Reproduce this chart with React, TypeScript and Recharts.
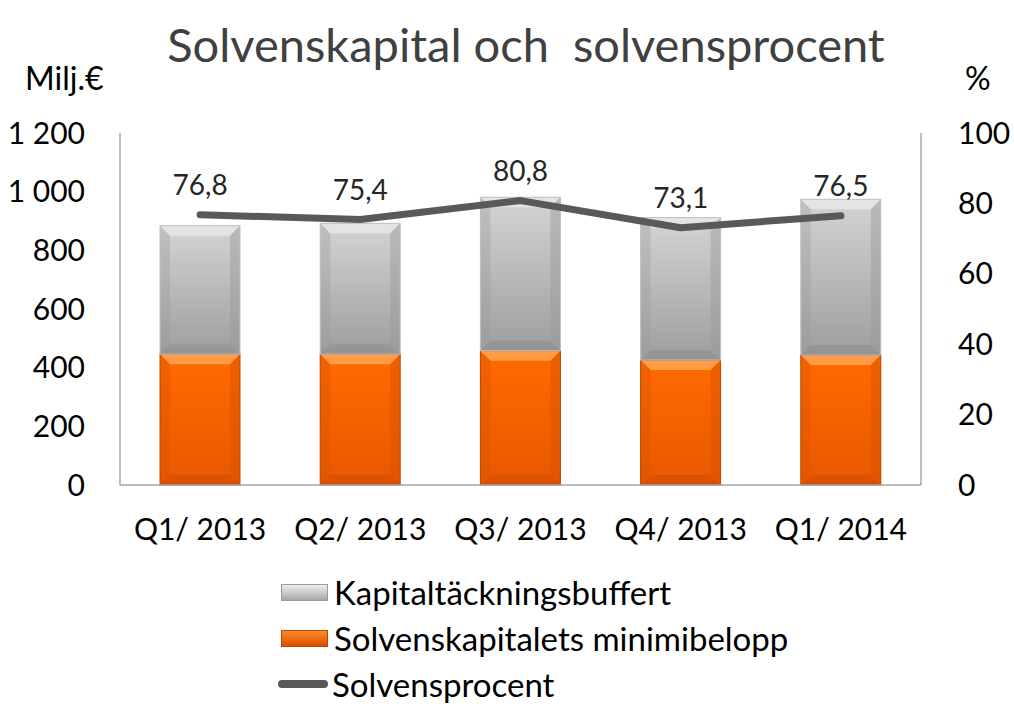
import React from "react";
import {
  ComposedChart, Bar, Line, XAxis, YAxis, LabelList
} from "recharts";

// values (Milj.€ and %)
const quarters = ["Q1/ 2013", "Q2/ 2013", "Q3/ 2013", "Q4/ 2013", "Q1/ 2014"];
const minimibelopp = [446, 446, 458, 426, 443];
const buffert = [438, 446, 523, 486, 531];
const solvensprocent = [76.8, 75.4, 80.8, 73.1, 76.5];

const leftTicks = [0, 200, 400, 600, 800, 1000, 1200];
const rightTicks = [0, 20, 40, 60, 80, 100];

const data = quarters.map((q, i) => ({
  q,
  min: minimibelopp[i],
  buf: buffert[i],
  pct: solvensprocent[i],
}));

const FONT = "Lato, 'Open Sans', sans-serif";

const fmtThousands = (v: number) => String(v).replace(/\B(?=(\d{3})+(?!\d))/g, " ");

// bevelled bar look
function BevelBar(props: any) {
  const { x, y, width, height, kind } = props;
  if (!height || height <= 0) return null;
  const b = 10;
  const top = kind === "gray" ? "#e6e6e6" : "#ffa24d";
  const body = kind === "gray" ? "url(#gradGray)" : "url(#gradOrange)";
  const bottom = kind === "gray" ? "#8a8a8a" : "#c94a00";
  const side = kind === "gray" ? "#9a9a9a" : "#d95200";
  return (
    <g>
      <rect x={x} y={y} width={width} height={height} fill={body} />
      <polygon points={`${x},${y} ${x + width},${y} ${x + width - b},${y + b} ${x + b},${y + b}`} fill={top} opacity={0.9} />
      <polygon points={`${x},${y + height} ${x + width},${y + height} ${x + width - b},${y + height - b} ${x + b},${y + height - b}`} fill={bottom} opacity={0.5} />
      <polygon points={`${x},${y} ${x + b},${y + b} ${x + b},${y + height - b} ${x},${y + height}`} fill={side} opacity={0.35} />
      <polygon points={`${x + width},${y} ${x + width - b},${y + b} ${x + width - b},${y + height - b} ${x + width},${y + height}`} fill={side} opacity={0.45} />
      <rect x={x} y={y} width={width} height={height} fill="none" stroke={kind === "gray" ? "#bfbfbf" : "#b84800"} strokeWidth={1} />
    </g>
  );
}

function LegendBox({ kind }: { kind: "gray" | "orange" }) {
  const bg = kind === "gray"
    ? "linear-gradient(#f0f0f0, #a6a6a6)"
    : "linear-gradient(#ff8a2a, #d95000)";
  return <div style={{ width: 45, height: 15, flex: "none", background: bg, border: "1px solid " + (kind === "gray" ? "#9a9a9a" : "#b84800") }} />;
}

export default function App() {
  return (
    <div style={{ position: "absolute", left: 0, top: 0, width: 1014, height: 725, background: "#fff", fontFamily: FONT }}>
      <div style={{ position: "absolute", left: 0, width: 1014, top: 14, textAlign: "center", fontSize: 47, color: "#404040", whiteSpace: "pre", lineHeight: "60px", paddingLeft: 38, boxSizing: "border-box" }}>
        Solvenskapital och  solvensprocent
      </div>
      <div style={{ position: "absolute", left: 25, top: 59, fontSize: 32, color: "#000", lineHeight: "38px" }}>Milj.€</div>
      <div style={{ position: "absolute", left: 965, top: 59, fontSize: 32, color: "#000", lineHeight: "38px" }}>%</div>

      <ComposedChart
        width={1014}
        height={725}
        data={data}
        margin={{ top: 133, right: 0, bottom: 0, left: 0 }}
        barCategoryGap="25%"
        style={{ position: "absolute", left: 0, top: 0 }}
      >
        <defs>
          <linearGradient id="gradGray" x1="0" y1="0" x2="0" y2="1">
            <stop offset="0%" stopColor="#d4d4d4" />
            <stop offset="100%" stopColor="#9e9e9e" />
          </linearGradient>
          <linearGradient id="gradOrange" x1="0" y1="0" x2="0" y2="1">
            <stop offset="0%" stopColor="#ff6a00" />
            <stop offset="100%" stopColor="#e85800" />
          </linearGradient>
        </defs>
        <XAxis
          dataKey="q"
          height={240}
          tickLine={false}
          tickSize={0}
          tickMargin={34}
          axisLine={{ stroke: "#a6a6a6", strokeWidth: 1.5 }}
          tick={{ fontSize: 30, fill: "#000", fontFamily: FONT }}
          interval={0}
        />
        <YAxis
          yAxisId="left"
          width={120}
          domain={[0, 1200]}
          ticks={leftTicks}
          tickFormatter={fmtThousands}
          tickLine={false}
          tickSize={0}
          tickMargin={35}
          axisLine={{ stroke: "#a6a6a6", strokeWidth: 1.5 }}
          tick={{ fontSize: 30, fill: "#000", fontFamily: FONT }}
          interval={0}
        />
        <YAxis
          yAxisId="right"
          orientation="right"
          width={93}
          domain={[0, 100]}
          ticks={rightTicks}
          tickLine={false}
          tickSize={0}
          tickMargin={37}
          axisLine={{ stroke: "#a6a6a6", strokeWidth: 1.5 }}
          tick={{ fontSize: 30, fill: "#000", fontFamily: FONT, textAnchor: "start" }}
          interval={0}
        />
        <Bar yAxisId="left" dataKey="min" stackId="a" barSize={80} isAnimationActive={false}
          shape={(p: any) => <BevelBar {...p} kind="orange" />} />
        <Bar yAxisId="left" dataKey="buf" stackId="a" barSize={80} isAnimationActive={false}
          shape={(p: any) => <BevelBar {...p} kind="gray" />} />
        <Line
          yAxisId="right"
          dataKey="pct"
          stroke="#595959"
          strokeWidth={7}
          strokeLinecap="round"
          strokeLinejoin="round"
          dot={false}
          activeDot={false}
          isAnimationActive={false}
        >
          <LabelList
            dataKey="pct"
            position="top"
            offset={20}
            formatter={(v: any) => String(v).replace(".", ",")}
            style={{ fontSize: 28, fill: "#262626", fontFamily: FONT }}
          />
        </Line>
      </ComposedChart>

      <div style={{ position: "absolute", left: 281, top: 569, fontSize: 33, color: "#000", lineHeight: "46px" }}>
        <div style={{ display: "flex", alignItems: "center", gap: 6 }}>
          <LegendBox kind="gray" />
          <span>Kapitaltäckningsbuffert</span>
        </div>
        <div style={{ display: "flex", alignItems: "center", gap: 6 }}>
          <LegendBox kind="orange" />
          <span>Solvenskapitalets minimibelopp</span>
        </div>
        <div style={{ display: "flex", alignItems: "center", gap: 4 }}>
          <div style={{ width: 50, height: 8, flex: "none", borderRadius: 4, background: "#595959", marginLeft: -3 }} />
          <span>Solvensprocent</span>
        </div>
      </div>
    </div>
  );
}
